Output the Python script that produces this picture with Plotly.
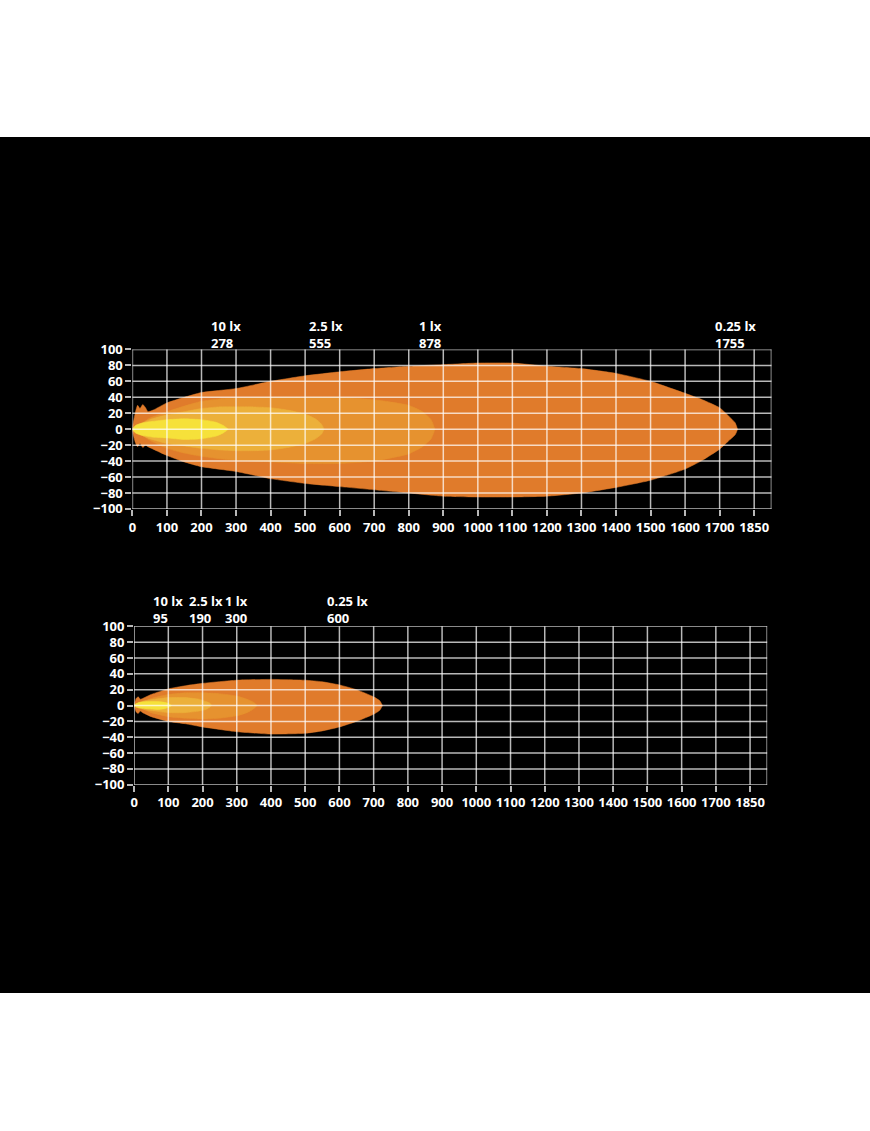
import plotly.graph_objects as go

# ---------------- DATA ----------------
X_TICKS = [0, 100, 200, 300, 400, 500, 600, 700, 800, 900, 1000, 1100, 1200,
           1300, 1400, 1500, 1600, 1700, 1800]
X_TICK_TEXT = ["0", "100", "200", "300", "400", "500", "600", "700", "800", "900",
               "1000", "1100", "1200", "1300", "1400", "1500", "1600", "1700", "1850"]
Y_TICKS = [-100, -80, -60, -40, -20, 0, 20, 40, 60, 80, 100]
X_MAX = 1850

LEVELS = ["0.25 lx", "1 lx", "2.5 lx", "10 lx"]

# Top chart (far beam)
TOP_025_X = [0, 8, 15, 22, 30, 38, 45, 60, 100, 150, 200, 300, 400, 500, 600, 700, 800, 900,
             1000, 1100, 1200, 1300, 1400, 1500, 1600, 1650, 1700, 1725, 1745, 1752]
TOP_025_UP = [2, 20, 30, 26, 31, 27, 22, 24, 33, 40, 46, 51, 60, 67, 72, 76, 79, 81,
              83, 83, 79, 76, 70, 60, 45, 37, 27, 17, 8, 0]
TOP_025_LO = [-2, -16, -22, -18, -23, -20, -22, -25, -33, -41, -47, -53, -62, -68, -72, -76, -80, -84,
              -85, -85, -84, -80, -73, -64, -50, -39, -25, -15, -7, 0]

TOP_1_X = [15, 30, 50, 100, 150, 200, 250, 300, 400, 500, 600, 700, 750, 800, 840, 865, 876]
TOP_1_UP = [3, 8, 14, 22, 29, 35, 38, 39, 40, 40, 40, 37, 34, 30, 22, 12, 0]
TOP_1_LO = [-3, -8, -14, -24, -30, -34, -37, -39, -41, -43, -43, -40, -36, -31, -22, -12, 0]

TOP_25_X = [5, 20, 50, 100, 150, 200, 250, 300, 350, 400, 450, 500, 530, 548, 555]
TOP_25_UP = [2, 6, 12, 18, 22, 26, 28, 28, 28, 27, 24, 19, 13, 6, 0]
TOP_25_LO = [-2, -6, -12, -18, -21, -24, -26, -27, -27, -26, -23, -18, -12, -6, 0]

TOP_10_X = [0, 10, 30, 60, 100, 150, 200, 240, 262, 278]
TOP_10_UP = [1, 5, 8, 10, 12, 13, 12, 9, 5, 0]
TOP_10_LO = [-1, -5, -8, -10, -11, -13, -12, -9, -5, 0]

TOP_LABEL_LX = ["10 lx", "2.5 lx", "1 lx", "0.25 lx"]
TOP_LABEL_DIST = [278, 555, 878, 1755]

# Bottom chart (near beam)
BOT_025_X = [0, 6, 12, 18, 25, 50, 100, 150, 200, 300, 400, 500, 550, 600, 650, 700, 718, 726]
BOT_025_UP = [1, 9, 11, 8, 9, 14, 21, 25, 28, 32, 33, 32, 30, 26, 20, 11, 6, 0]
BOT_025_LO = [-1, -8, -10, -7, -9, -14, -20, -23, -27, -33, -36, -35, -32, -27, -20, -11, -6, 0]

BOT_1_X = [20, 50, 100, 150, 200, 250, 300, 330, 350, 360]
BOT_1_UP = [3, 9, 14, 16, 16, 15, 12, 8, 4, 0]
BOT_1_LO = [-3, -9, -14, -16, -17, -16, -13, -9, -4, 0]

BOT_25_X = [5, 30, 60, 100, 150, 190, 210, 222, 227]
BOT_25_UP = [2, 6, 8, 10, 10, 8, 5, 3, 0]
BOT_25_LO = [-2, -5, -7, -9, -9, -7, -5, -2, 0]

BOT_10_X = [0, 15, 40, 70, 90, 103, 110]
BOT_10_UP = [1, 4, 5, 5, 4, 2, 0]
BOT_10_LO = [-1, -3, -4, -5, -4, -2, 0]

BOT_LABEL_LX = ["10 lx", "2.5 lx", "1 lx", "0.25 lx"]
BOT_LABEL_DIST = [95, 190, 300, 600]

# ---------------- STYLE ----------------
COLORS = {"0.25 lx": "#E07B2B", "1 lx": "#E6922F", "2.5 lx": "#ECB03A", "10 lx": "#F6E13A"}
GRID = "rgba(255,255,255,0.72)"
TICK_FONT = dict(family="Open Sans, Noto Sans, sans-serif", size=13, color="white", weight=700)
ANN_FONT = dict(family="Open Sans, Noto Sans, sans-serif", size=13, color="white", weight=700)
W, H = 870, 1131

TOP_LABEL_SHIFT = [-18, -16, -18, -25]
BOT_LABEL_SHIFT = [-15, -11, -13, -13]


def px_x(p):
    return p / W


def px_y(p):
    return (H - p) / H


fig = go.Figure()


def add_beam(xs, up, lo, level, xa, ya):
    fig.add_trace(go.Scatter(
        x=xs + xs[::-1], y=up + lo[::-1], mode="lines", fill="toself",
        fillcolor=COLORS[level], line=dict(color=COLORS[level], width=0.5, shape="spline", smoothing=0.5),
        xaxis=xa, yaxis=ya, hoverinfo="skip", showlegend=False, name=level))


top = {"0.25 lx": (TOP_025_X, TOP_025_UP, TOP_025_LO), "1 lx": (TOP_1_X, TOP_1_UP, TOP_1_LO),
       "2.5 lx": (TOP_25_X, TOP_25_UP, TOP_25_LO), "10 lx": (TOP_10_X, TOP_10_UP, TOP_10_LO)}
bot = {"0.25 lx": (BOT_025_X, BOT_025_UP, BOT_025_LO), "1 lx": (BOT_1_X, BOT_1_UP, BOT_1_LO),
       "2.5 lx": (BOT_25_X, BOT_25_UP, BOT_25_LO), "10 lx": (BOT_10_X, BOT_10_UP, BOT_10_LO)}
for lv in LEVELS:
    add_beam(*top[lv], lv, "x", "y")
for lv in LEVELS:
    add_beam(*bot[lv], lv, "x2", "y2")

# black paper with white bands at the top and the bottom of the page
shapes = [
    dict(type="rect", xref="paper", yref="paper", x0=-0.01, x1=1.01, y0=px_y(130), y1=1.01,
         fillcolor="white", line=dict(width=0), layer="below"),
    dict(type="rect", xref="paper", yref="paper", x0=-0.01, x1=1.01, y0=-0.01, y1=px_y(1000),
         fillcolor="white", line=dict(width=0), layer="below"),
]
for xr, yr in (("x", "y"), ("x2", "y2")):
    for v in X_TICKS + [X_MAX]:
        shapes.append(dict(type="line", xref=xr, yref=yr + " domain", x0=v, x1=v, y0=0, y1=1,
                           line=dict(color=GRID, width=1.5), layer="above"))
    for v in Y_TICKS:
        shapes.append(dict(type="line", xref=xr + " domain", yref=yr, x0=0, x1=1, y0=v, y1=v,
                           line=dict(color=GRID, width=1.5), layer="above"))

annotations = []
for texts, dists, shifts, xr, yc in (
        (TOP_LABEL_LX, TOP_LABEL_DIST, TOP_LABEL_SHIFT, "x", 331),
        (BOT_LABEL_LX, BOT_LABEL_DIST, BOT_LABEL_SHIFT, "x2", 610),):
    for t, d, s in zip(texts, dists, shifts):
        annotations.append(dict(x=d, xref=xr, y=px_y(yc), yref="paper", text=f"{t}<br>{d}",
                                showarrow=False, xanchor="left", yanchor="middle", align="left",
                                xshift=s, borderpad=0, font=ANN_FONT))

axis_common = dict(showgrid=False, zeroline=False, showline=False, ticks="outside", ticklen=6,
                   tickwidth=1.5, tickcolor="rgba(255,255,255,0.72)", tickfont=TICK_FONT)

fig.update_layout(
    width=W, height=H, margin=dict(l=0, r=0, t=0, b=0, pad=0), autosize=False,
    paper_bgcolor="black", plot_bgcolor="black",
    showlegend=False, shapes=shapes, annotations=annotations,
    xaxis=dict(domain=[px_x(129), px_x(771)], range=[0, X_MAX], anchor="y",
               tickvals=X_TICKS, ticktext=X_TICK_TEXT, **axis_common),
    yaxis=dict(domain=[px_y(508), px_y(346)], range=[-100, 100], anchor="x",
               tickvals=Y_TICKS, **axis_common),
    xaxis2=dict(domain=[px_x(130.7), px_x(766.7)], range=[0, X_MAX], anchor="y2",
                tickvals=X_TICKS, ticktext=X_TICK_TEXT, **axis_common),
    yaxis2=dict(domain=[px_y(788.3), px_y(627.3)], range=[-100, 100], anchor="x2",
                tickvals=Y_TICKS, **axis_common),
)

fig.write_html(
    "out.html",
    config={"displayModeBar": False, "responsive": False},
    post_script="document.body.style.margin='0';document.body.style.overflow='hidden';"
                "document.documentElement.style.overflow='hidden';",
)
